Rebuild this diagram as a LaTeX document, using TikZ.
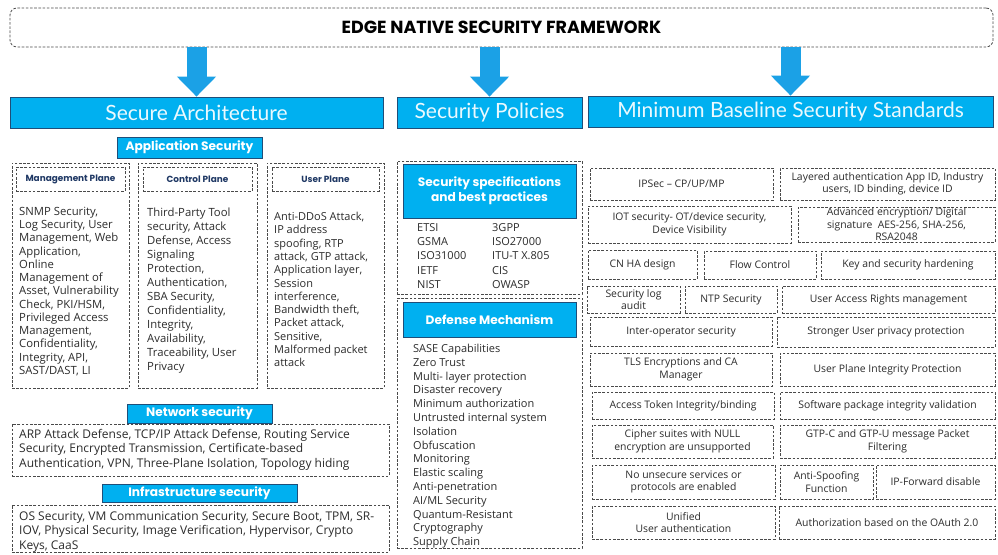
\documentclass[tikz,border=0pt]{standalone}
\usepackage{fontspec}
\setmainfont{Open Sans}
\newfontfamily\headfont{Poppins}
\newfontfamily\bannerfont{Lato}
\usetikzlibrary{arrows.meta}
\definecolor{cyanfill}{HTML}{00B0F0}
\definecolor{arrowblue}{HTML}{1BA1E6}
\definecolor{headline}{HTML}{1F4E79}
\definecolor{navytext}{HTML}{1F3864}
\definecolor{bodytext}{HTML}{2B2B2B}
\definecolor{dashgrey}{HTML}{4A4A4A}
\tikzset{
    dashbox/.style={
        draw=dashgrey, line width=0.8pt, dash pattern=on 2.6pt off 1.6pt,
        inner sep=1pt, align=center, text=bodytext,
        font=\fontsize{10.4}{12.5}\selectfont,
    },
    framebox/.style={
        dashbox, rounded corners=7pt, text=black,
        font=\headfont\bfseries\fontsize{17.5}{20}\selectfont,
    },
    mainhead/.style={
        draw=headline, line width=0.8pt, fill=cyanfill, text=white!92!cyanfill,
        inner sep=0pt, font=\bannerfont\fontsize{21}{24}\selectfont,
    },
    tag/.style={
        draw=headline, line width=0.5pt, fill=cyanfill, text=white,
        inner sep=0pt, align=center,
        font=\headfont\bfseries\fontsize{12.2}{15}\selectfont,
    },
    planehead/.style={
        dashbox, text=navytext,
        font=\headfont\bfseries\fontsize{8.9}{10}\selectfont,
    },
    listtext/.style={
        anchor=north west, inner sep=0pt, align=left, text=bodytext,
        font=\fontsize{11.3}{13.3}\selectfont,
    },
    bigarrow/.style={
        draw=arrowblue, line width=20pt,
        -{Triangle[width=38pt,length=20pt]},
    },
}
\begin{document}
\begin{tikzpicture}[x=1pt,y=-1pt]
\useasboundingbox (0,0) rectangle (998,554);

\node[framebox, minimum width=983, minimum height=39] (frame) at (501.5,27.5) {EDGE NATIVE SECURITY FRAMEWORK};

\node[mainhead, minimum width=373, minimum height=31] (secarch) at (196.5,112.5) {Secure Architecture};
\node[mainhead, minimum width=185, minimum height=31] (policies) at (489.5,112.5) {Security Policies};
\node[mainhead, minimum width=405, minimum height=31] (baseline) at (790.5,111.5) {Minimum Baseline Security Standards};

\draw[bigarrow] (secarch.north |- frame.south) -- (secarch.north);
\draw[bigarrow] (policies.north |- frame.south) -- (policies.north);
\draw[bigarrow] (baseline.north |- frame.south) -- (baseline.north);

% secure architecture
\node[tag, minimum width=145, minimum height=21] (appsec) at (189.5,147.5) {Application Security};

\node[dashbox, minimum width=117, minimum height=225] (mgmt) at (70.5,275.5) {};
\node[planehead, minimum width=109, minimum height=24] (mgmthead) at (70.5,179) {Management Plane};
\node[listtext, font=\fontsize{11.3}{13.25}\selectfont] (mgmttext) at (19,207) {SNMP Security,\\Log Security, User\\Management, Web\\Application,\\Online\\Management of\\Asset, Vulnerability\\Check, PKI/HSM,\\Privileged Access\\Management,\\Confidentiality,\\Integrity, API,\\SAST/DAST, LI};

\node[dashbox, minimum width=119, minimum height=225] (ctrl) at (197.5,275.5) {};
\node[planehead, minimum width=109, minimum height=24] (ctrlhead) at (197.5,179) {Control Plane};
\node[listtext, font=\fontsize{11.3}{14}\selectfont] (ctrltext) at (147,208) {Third-Party Tool\\security, Attack\\Defense, Access\\Signaling\\Protection,\\Authentication,\\SBA Security,\\Confidentiality,\\Integrity,\\Availability,\\Traceability, User\\Privacy};

\node[dashbox, minimum width=117, minimum height=225] (user) at (325.5,275.5) {};
\node[planehead, minimum width=107, minimum height=24] (userhead) at (325.5,179) {User Plane};
\node[listtext, font=\fontsize{11}{13.3}\selectfont] (usertext) at (274,212) {Anti-DDoS Attack,\\IP address\\spoofing, RTP\\attack, GTP attack,\\Application layer,\\Session\\interference,\\Bandwidth theft,\\Packet attack,\\Sensitive,\\Malformed packet\\attack};

\node[tag, minimum width=145, minimum height=19] (netsec) at (199.5,413.5) {Network security};
\node[dashbox, minimum width=377, minimum height=52] (netbox) at (200.5,450) {};
\node[listtext, font=\fontsize{12}{14.5}\selectfont] (nettext) at (19,429) {ARP Attack Defense, TCP/IP Attack Defense, Routing Service\\Security, Encrypted Transmission, Certificate-based\\Authentication, VPN, Three-Plane Isolation, Topology hiding};

\node[tag, minimum width=195, minimum height=18] (infrasec) at (199.5,493) {Infrastructure security};
\node[dashbox, minimum width=377, minimum height=47] (infrabox) at (200.5,528.5) {};
\node[listtext, font=\fontsize{12}{14.3}\selectfont] (infratext) at (19,511.5) {OS Security, VM Communication Security, Secure Boot, TPM, SR-\\IOV, Physical Security, Image Verification, Hypervisor, Crypto\\Keys, CaaS};

% security policies
\node[dashbox, minimum width=185, minimum height=133] (specbox) at (489.5,227.5) {};
\node[tag, minimum width=173, minimum height=54] (spechead) at (489.5,191) {Security specifications\\and best practices};
\node[listtext, font=\fontsize{11}{14.3}\selectfont] (speccol1) at (417,223) {ETSI\\GSMA\\ISO31000\\IETF\\NIST};
\node[listtext, font=\fontsize{11}{14.3}\selectfont] (speccol2) at (492,223) {3GPP\\ISO27000\\ITU-T X.805\\CIS\\OWASP};

\node[dashbox, minimum width=185, minimum height=250] (defbox) at (489.5,423) {};
\node[tag, minimum width=173, minimum height=35] (defhead) at (489.5,319.5) {Defense Mechanism};
\node[listtext, font=\fontsize{11}{13.8}\selectfont] (deftext) at (413,344) {SASE Capabilities\\Zero Trust\\Multi- layer protection\\Disaster recovery\\Minimum authorization\\Untrusted internal system\\Isolation\\Obfuscation\\Monitoring\\Elastic scaling\\Anti-penetration\\AI/ML Security\\Quantum-Resistant\\Cryptography\\Supply Chain};

% minimum baseline security standards
\node[dashbox, minimum width=183, minimum height=32] (ipsec) at (681.5,184) {IPSec -- CP/UP/MP};
\node[dashbox, minimum width=215, minimum height=32] (layered) at (887.5,184) {Layered authentication App ID, Industry\\users, ID binding, device ID};
\node[dashbox, minimum width=203, minimum height=37] (iot) at (689.5,224.5) {IOT security- OT/device security,\\Device Visibility};
\node[dashbox, minimum width=197, minimum height=35] (advenc) at (896.5,224.5) {Advanced encryption/ Digital\\signature~ AES-256, SHA-256,\\RSA2048};
\node[dashbox, minimum width=109, minimum height=29] (cnha) at (642.5,264.5) {CN HA design};
\node[dashbox, minimum width=112, minimum height=28] (flow) at (760,265) {Flow Control};
\node[dashbox, minimum width=174, minimum height=28] (keyhard) at (908,265) {Key and security hardening};
\node[dashbox, minimum width=93, minimum height=27] (seclog) at (633.5,299.5) {Security log\\audit};
\node[dashbox, minimum width=92, minimum height=27] (ntp) at (731,299.5) {NTP Security};
\node[dashbox, minimum width=213, minimum height=27] (uarm) at (888.5,299.5) {User Access Rights management};
\node[dashbox, minimum width=182, minimum height=29] (interop) at (681,331.5) {Inter-operator security};
\node[dashbox, minimum width=218, minimum height=30] (privacy) at (886,332) {Stronger User privacy protection};
\node[dashbox, minimum width=182, minimum height=33] (tls) at (681,369.5) {TLS Encryptions and CA\\Manager};
\node[dashbox, minimum width=215, minimum height=33] (upip) at (887.5,369.5) {User Plane Integrity Protection};
\node[dashbox, minimum width=182, minimum height=27] (token) at (683,405.5) {Access Token Integrity/binding};
\node[dashbox, minimum width=215, minimum height=27] (swpkg) at (887.5,405.5) {Software package integrity validation};
\node[dashbox, minimum width=181, minimum height=33] (cipher) at (682.5,441.5) {Cipher suites with NULL\\encryption are unsupported};
\node[dashbox, minimum width=215, minimum height=33] (gtp) at (887.5,441.5) {GTP-C and GTP-U message Packet\\Filtering};
\node[dashbox, minimum width=183, minimum height=34] (unsecure) at (683.5,482) {No unsecure services or\\protocols are enabled};
\node[dashbox, minimum width=93, minimum height=34] (antispoof) at (826.5,482) {Anti-Spoofing\\Function};
\node[dashbox, minimum width=119, minimum height=34] (ipfwd) at (935.5,482) {IP-Forward disable};
\node[dashbox, minimum width=183, minimum height=33] (unified) at (683.5,522.5) {Unified\\User authentication};
\node[dashbox, minimum width=216, minimum height=33] (oauth) at (887,522.5) {Authorization based on the OAuth 2.0};
\end{tikzpicture}
\end{document}
